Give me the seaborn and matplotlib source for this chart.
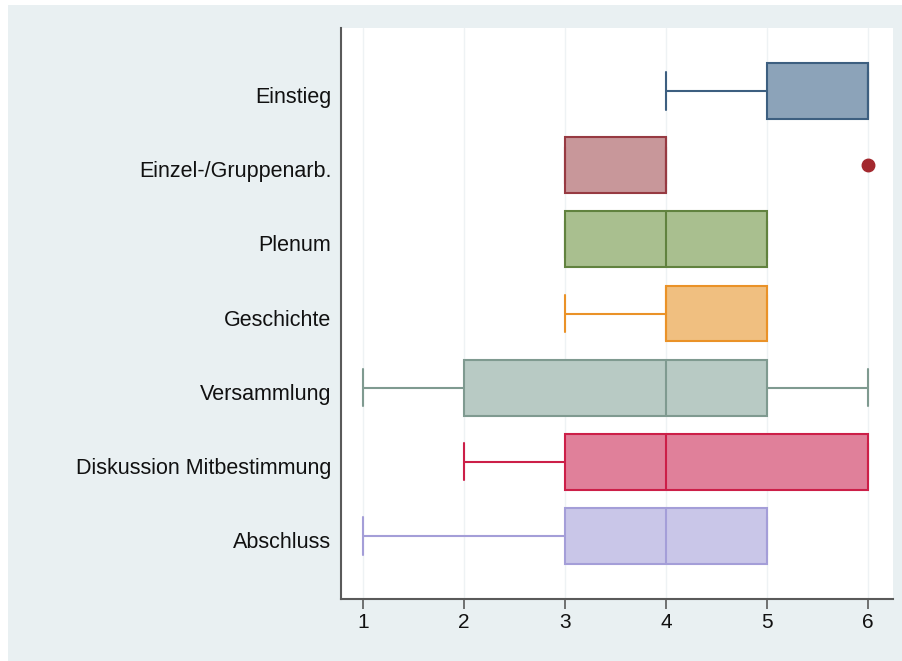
import matplotlib
matplotlib.use("Agg")
import matplotlib.pyplot as plt
from matplotlib.patches import Rectangle
from matplotlib.transforms import ScaledTranslation
import seaborn as sns
import pandas as pd

# Response scale 1..6, answers per lesson phase
categories = ["Einstieg", "Einzel-/Gruppenarb.", "Plenum", "Geschichte",
              "Versammlung", "Diskussion Mitbestimmung", "Abschluss"]
einstieg = [4, 5, 5, 6, 6, 6, 6, 6]
einzel_gruppenarbeit = [3, 3, 3, 4, 4, 4, 4, 6]
plenum = [3, 3, 3, 4, 5, 5, 5]
geschichte = [3, 4, 4, 4, 5, 5, 5]
versammlung = [1, 2, 2, 4, 5, 5, 6]
diskussion_mitbestimmung = [2, 3, 3, 4, 6, 6, 6]
abschluss = [1, 3, 3, 4, 5, 5, 5]
x_ticks = [1, 2, 3, 4, 5, 6]

values = [einstieg, einzel_gruppenarbeit, plenum, geschichte,
          versammlung, diskussion_mitbestimmung, abschluss]
df = pd.DataFrame(
    [(c, v) for c, vals in zip(categories, values) for v in vals],
    columns=["phase", "wert"],
)

fills = ["#8CA3B9", "#C8979A", "#A9BF8F", "#F0BF80",
         "#B8CAC4", "#E0809A", "#C9C6E8"]
edges = ["#3D5F80", "#973A42", "#61823F", "#EA9228",
         "#7F9A90", "#CC1F48", "#A49ED8"]

sns.set_style("white")
plt.rcParams["font.family"] = ["Liberation Sans", "DejaVu Sans"]

bg = "#E9F0F2"
fig = plt.figure(figsize=(9.02, 6.61), dpi=100)
fig.patch.set_facecolor("white")
fig.add_artist(Rectangle((8 / 902, 0), 1, 1 - 5 / 661, transform=fig.transFigure,
                         facecolor=bg, edgecolor="none", zorder=-10))
ax = fig.add_axes([341 / 902, 1 - 599 / 661, (893 - 341) / 902, (599 - 28) / 661])
ax.set_facecolor("white")

for cat, fc, ec in zip(categories, fills, edges):
    sub = df[df["phase"] == cat]
    sns.boxplot(data=sub, x="wert", y="phase", order=categories, ax=ax,
                color=fc, linecolor=ec, saturation=1, width=0.755,
                linewidth=1.5, whis=1.5,
                flierprops=dict(marker="o", markerfacecolor="#A3282E",
                                markeredgecolor="#A3282E", markersize=9),
                capwidths=0.5)

ax.set_xlim(0.783, 6.245)
ax.set_ylim(6.85, -0.85)
ax.set_xticks(x_ticks)
ax.set_xticklabels([str(t) for t in x_ticks])
ax.set_xlabel("")
ax.set_ylabel("")
ax.xaxis.grid(True, color="#EEF2F4", linewidth=1.0)
ax.set_axisbelow(True)

for side in ["top", "right"]:
    ax.spines[side].set_visible(False)
for side in ["left", "bottom"]:
    ax.spines[side].set_color("#5A5A5A")
    ax.spines[side].set_linewidth(1.5)

ax.tick_params(axis="x", direction="out", length=7, width=1.2, color="#5A5A5A",
               labelsize=15, pad=3, labelcolor="#111111", bottom=True)
ax.tick_params(axis="y", length=0, labelsize=15.5, pad=7, labelcolor="#111111",
               left=False)

# nudge category labels slightly downward
shift = ScaledTranslation(0, -4 / 100, fig.dpi_scale_trans)
for lbl in ax.get_yticklabels():
    lbl.set_transform(lbl.get_transform() + shift)

fig.savefig("out.png", dpi=100, facecolor=fig.get_facecolor())
